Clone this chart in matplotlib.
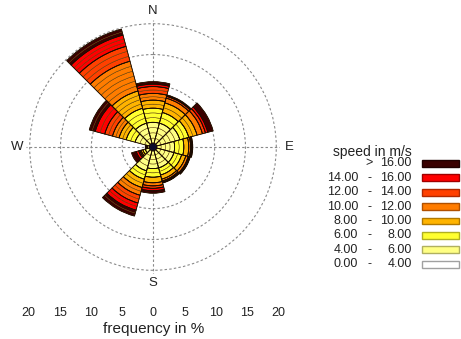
import numpy as np
import matplotlib
matplotlib.use("Agg")
import matplotlib.pyplot as plt
from matplotlib.patches import Rectangle

plt.rcParams['font.family'] = ['Liberation Sans', 'DejaVu Sans']

# ---------------- data ----------------
directions = [0, 30, 60, 90, 120, 150, 180, 210, 240, 270, 300, 330]   # degrees
compass = ['N', 'E', 'S', 'W']
compass_deg = [0, 90, 180, 270]

f_0_4   = [0.6, 0.6, 0.6, 0.6, 0.6, 0.6, 0.6, 0.6, 0.6, 0.6, 0.6, 0.6]
f_4_6   = [3.4, 3.4, 3.9, 2.9, 2.9, 2.9, 2.9, 3.4, 0.7, 0.3, 2.4, 3.4]
f_6_8   = [2.3, 1.8, 1.5, 1.5, 1.3, 1.2, 1.4, 1.4, 0.4, 0.1, 1.5, 2.5]
f_8_10  = [1.3, 1.6, 1.4, 0.8, 0.7, 0.7, 0.9, 1.4, 0.3, 0.05, 1.2, 2.9]
f_10_12 = [1.1, 0.8, 0.9, 0.3, 0.4, 0.3, 0.5, 1.3, 0.2, 0.05, 1.1, 5.0]
f_12_14 = [1.1, 0.3, 0.5, 0.15, 0.15, 0.15, 0.4, 1.3, 0.2, 0.05, 1.3, 2.5]
f_14_16 = [0.4, 0.1, 0.4, 0.1, 0.1, 0.1, 0.4, 1.2, 0.4, 0.05, 1.6, 1.9]
f_gt_16 = [0.4, 0.15, 0.9, 0.1, 0.1, 0.1, 0.4, 1.0, 0.8, 0.05, 1.0, 1.0]
calm = 0.55

class_low  = ["0.00", "4.00", "6.00", "8.00", "10.00", "12.00", "14.00", ""]
class_high = ["4.00", "6.00", "8.00", "10.00", "12.00", "14.00", "16.00", "16.00"]
class_sep  = ["-", "-", "-", "-", "-", "-", "-", ">"]
legend_title = "speed in m/s"

freq_ticks = [-20, -15, -10, -5, 0, 5, 10, 15, 20]
freq_label = "frequency in %"

# ---------------- style ----------------
fills = ['#ffffff', '#ffff84', '#ffff30', '#ffb400', '#ff7c00', '#ff4000', '#ff0000', '#3a0000']
legend_edges = ['#a0a0a0', '#b0b060', '#b0b020', '#b07800', '#b05000', '#b02800', '#a00000', '#200000']
classes = [f_0_4, f_4_6, f_6_8, f_8_10, f_10_12, f_12_14, f_14_16, f_gt_16]

W, H = 461, 339
fig = plt.figure(figsize=(W / 100, H / 100), dpi=100)

rmax = 20.6
cx, cy = 153.0, 147.0
R = 123.3 * rmax / 20.0
ax = fig.add_axes([(cx - R) / W, (H - cy - R) / H, 2 * R / W, 2 * R / H], projection='polar')
ax.set_theta_zero_location('N')
ax.set_theta_direction(-1)
ax.set_ylim(0, rmax)
ax.set_yticks([5, 10, 15, 20])
ax.set_yticklabels([])
ax.set_xticks(np.radians(compass_deg))
ax.set_xticklabels([])
ax.grid(True, color='#8a8a8a', linestyle=(0, (2.2, 2.0)), linewidth=0.8)
ax.xaxis.grid(True, color='#8a8a8a', linestyle=(0, (2.2, 2.0)), linewidth=0.8)
ax.spines['polar'].set_visible(False)
ax.set_axisbelow(True)
ax.patch.set_alpha(0)

theta = np.radians(directions)
width = np.radians(30)
bottom = np.zeros(len(directions))
for vals, col in zip(classes, fills):
    vals = np.asarray(vals, dtype=float)
    for i in range(len(directions)):
        v = vals[i]
        n = max(1, int(np.ceil(v / 0.9)))
        piece = v / n
        for k in range(n):
            ax.bar(theta[i], piece, width=width, bottom=bottom[i] + k * piece,
                   color=col, edgecolor='#5a3800', linewidth=0.35, zorder=2)
        ax.bar(theta[i], v, width=width, bottom=bottom[i], color='none',
               edgecolor='#1a0a00', linewidth=0.6, zorder=3)
    bottom += vals

ax.bar(0, calm, width=2 * np.pi, bottom=0, color='#0c0c2a', edgecolor='none', zorder=4)

for lab, d in zip(compass, compass_deg):
    ax.text(np.radians(d), 22.1, lab, ha='center', va='center', fontsize=9.5,
            color='#222222', clip_on=False)

# bottom frequency scale
ax2 = fig.add_axes([(153.3 - 125) / W, (H - 303) / H, 250 / W, 0.0001])
ax2.set_xlim(-20, 20)
ax2.set_xticks(freq_ticks)
ax2.set_xticklabels([str(abs(t)) for t in freq_ticks], fontsize=9, color='#222222')
ax2.set_yticks([])
ax2.tick_params(axis='x', length=0, pad=3)
for s in ax2.spines.values():
    s.set_visible(False)
ax2.patch.set_alpha(0)
ax2.set_xlabel(freq_label, fontsize=11, color='#222222', labelpad=2)

# legend
fig.text(333 / W, 1 - 151.7 / H, legend_title, ha='left', va='center', fontsize=10, color='#222222')
for j in range(len(fills)):
    y = 163.3 + 14.43 * (7 - j)
    yf = 1 - y / H
    fig.text(358 / W, yf, class_low[j], ha='right', va='center', fontsize=9, color='#222222')
    fig.text(369 / W, yf, class_sep[j], ha='center', va='center', fontsize=9, color='#222222')
    fig.text(411.7 / W, yf, class_high[j], ha='right', va='center', fontsize=9, color='#222222')
    fig.patches.append(Rectangle(((421.5) / W, 1 - (y + 3.4) / H), 37.5 / W, 6.8 / H,
                                 transform=fig.transFigure, facecolor=fills[j],
                                 edgecolor=legend_edges[j], linewidth=1.0))

fig.savefig('out.png', dpi=100)
